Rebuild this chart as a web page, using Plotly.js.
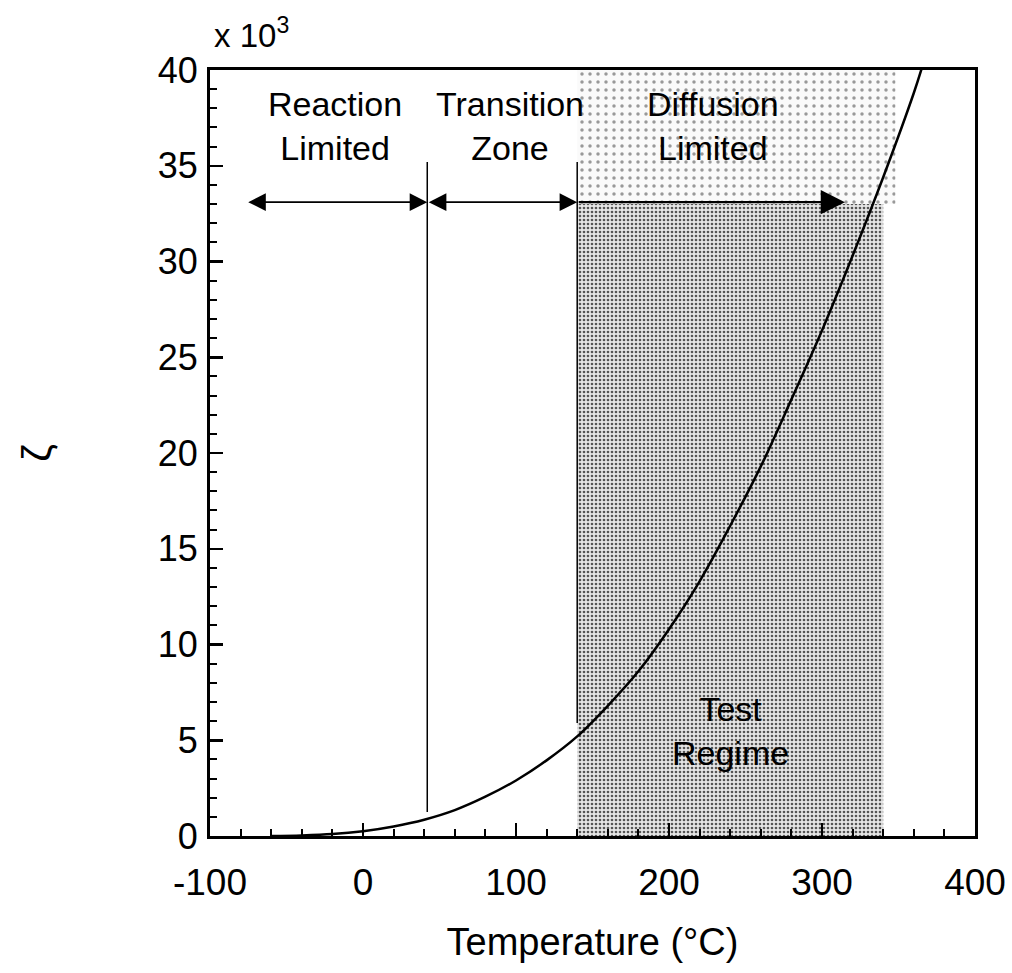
<!DOCTYPE html>
<html>
<head>
<meta charset="utf-8">
<script src="https://cdn.plot.ly/plotly-3.0.1.min.js"></script>
<style>html,body{margin:0;padding:0;background:#fff;}#chart{width:1012px;height:973px;}</style>
</head>
<body>
<div id="chart"></div>
<script>
// Temperature (°C) and zeta (x 10^3)
const temperature = [-60,-40,-20,0,20,40,60,80,100,120,140,160,180,200,220,240,260,280,300,320,340,360,366];
const zeta = [0.0,0.03,0.1,0.25,0.5,0.85,1.35,2.05,2.9,3.95,5.2,6.8,8.6,10.8,13.3,16.2,19.3,22.8,26.4,30.3,34.4,38.8,40.3];

// regime boundaries (°C)
const transitionStartT = 42;
const diffusionStartT = 140;
const transitionLineZeta = [1.25, 35.2];
const diffusionLineZeta = [5.9, 35.2];

// test regime shading
const testRegimeT = [140, 340];
const testRegimeDenseZeta = [0, 33];
const testRegimeSparseT = [140, 348];
const testRegimeSparseZeta = [33, 40];

// arrows
const arrowZeta = 33.1;
const arrowReactionT = [-76, transitionStartT];
const arrowTransitionT = [transitionStartT, diffusionStartT];
const arrowDiffusionT = [diffusionStartT, 315];

// labels
const regimeLabels = [
  {text: 'Reaction<br>Limited', T: -18, z: 37.1},
  {text: 'Transition<br>Zone', T: 96, z: 37.1},
  {text: 'Diffusion<br>Limited', T: 229, z: 37.1},
  {text: 'Test<br>Regime', T: 240, z: 5.5}
];

const xTicks = [-100, 0, 100, 200, 300, 400];
const yTicks = [0, 5, 10, 15, 20, 25, 30, 35, 40];

const FONT = 'Liberation Sans, Arial, Helvetica, sans-serif';

const traces = [
  {
    x: [testRegimeT[0], testRegimeT[1], testRegimeT[1], testRegimeT[0], testRegimeT[0]],
    y: [testRegimeDenseZeta[0], testRegimeDenseZeta[0], testRegimeDenseZeta[1], testRegimeDenseZeta[1], testRegimeDenseZeta[0]],
    mode: 'lines', fill: 'toself', line: {width: 0},
    fillcolor: 'rgba(0,0,0,0)',
    fillpattern: {shape: '.', bgcolor: '#e6e6e6', fgcolor: '#555', size: 4, solidity: 0.35},
    hoverinfo: 'skip', showlegend: false
  },
  {
    x: [testRegimeSparseT[0], testRegimeSparseT[1], testRegimeSparseT[1], testRegimeSparseT[0], testRegimeSparseT[0]],
    y: [testRegimeSparseZeta[0], testRegimeSparseZeta[0], testRegimeSparseZeta[1], testRegimeSparseZeta[1], testRegimeSparseZeta[0]],
    mode: 'lines', fill: 'toself', line: {width: 0},
    fillcolor: 'rgba(0,0,0,0)',
    fillpattern: {shape: '.', bgcolor: '#fafafa', fgcolor: '#999', size: 8, solidity: 0.15},
    hoverinfo: 'skip', showlegend: false
  },
  {
    x: [transitionStartT, transitionStartT], y: transitionLineZeta,
    mode: 'lines', line: {color: '#000', width: 1.5}, showlegend: false, hoverinfo: 'skip'
  },
  {
    x: [diffusionStartT, diffusionStartT], y: diffusionLineZeta,
    mode: 'lines', line: {color: '#000', width: 1.5}, showlegend: false, hoverinfo: 'skip'
  },
  {
    x: temperature, y: zeta, mode: 'lines',
    line: {color: '#000', width: 2.5, shape: 'spline', smoothing: 1},
    showlegend: false
  }
];

function arrow(tFrom, tTo, both, width) {
  return {
    x: tTo, y: arrowZeta, ax: tFrom, ay: arrowZeta,
    xref: 'x', yref: 'y', axref: 'x', ayref: 'y',
    showarrow: true, text: '', arrowhead: 2, arrowsize: 2.2, arrowwidth: width,
    arrowcolor: '#000', arrowside: both ? 'end+start' : 'end', standoff: 0, startstandoff: 0
  };
}

const annotations = [
  arrow(arrowReactionT[0], arrowReactionT[1], true, 1.6),
  arrow(arrowTransitionT[0], arrowTransitionT[1], true, 1.6),
  arrow(arrowDiffusionT[0], arrowDiffusionT[1], false, 2.2)
];
regimeLabels.forEach(l => annotations.push({
  x: l.T, y: l.z, xref: 'x', yref: 'y', text: l.text, showarrow: false,
  font: {family: FONT, size: 34, color: '#000'}, align: 'center'
}));
annotations.push({
  x: 0, y: 1, xref: 'paper', yref: 'paper', xanchor: 'left', yanchor: 'bottom',
  yshift: 14, xshift: 2, text: 'x 10<sup>3</sup>', showarrow: false,
  font: {family: FONT, size: 33, color: '#000'}
});

const layout = {
  width: 1012, height: 973,
  margin: {l: 210, r: 37, t: 70, b: 137},
  paper_bgcolor: '#fff', plot_bgcolor: '#fff',
  font: {family: FONT, color: '#000'},
  showlegend: false,
  xaxis: {
    range: [-100, 400], tickvals: xTicks, ticktext: xTicks.map(String),
    ticks: 'inside', ticklen: 13, tickwidth: 2.5, tickcolor: '#000',
    minor: {ticks: 'inside', dtick: 20, ticklen: 7, tickwidth: 2, tickcolor: '#000', showgrid: false},
    showline: true, linecolor: '#000', linewidth: 3, mirror: true,
    showgrid: false, zeroline: false,
    tickfont: {family: FONT, size: 37, color: '#000'}, ticklabelstandoff: 12,
    title: {text: 'Temperature (°C)', font: {family: FONT, size: 38, color: '#000'}, standoff: 26}
  },
  yaxis: {
    range: [0, 40], tickvals: yTicks, ticktext: yTicks.map(String),
    ticks: 'inside', ticklen: 13, tickwidth: 2.5, tickcolor: '#000',
    minor: {ticks: 'inside', dtick: 1, ticklen: 7, tickwidth: 2, tickcolor: '#000', showgrid: false},
    showline: true, linecolor: '#000', linewidth: 3, mirror: true,
    showgrid: false, zeroline: false,
    tickfont: {family: FONT, size: 36, color: '#000'}, ticklabelstandoff: 2,
    title: {text: 'ζ', font: {family: FONT, size: 40, color: '#000'}, standoff: 94}
  },
  annotations: annotations
};

Plotly.newPlot('chart', traces, layout, {displayModeBar: false, staticPlot: true});
</script>
</body>
</html>
